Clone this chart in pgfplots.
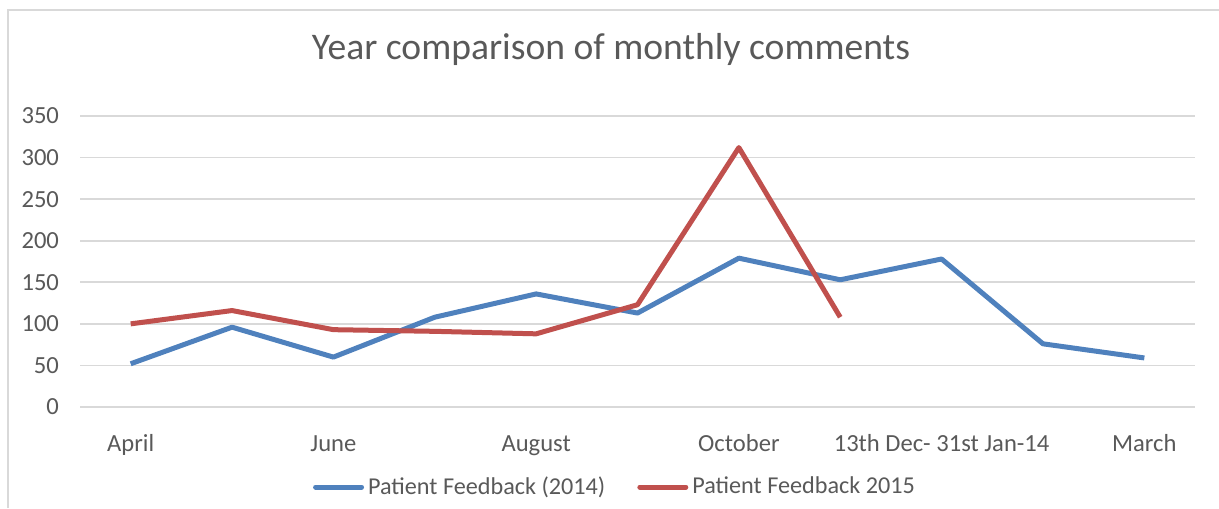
\documentclass[border=0pt]{standalone}
\usepackage{fontspec}
\setmainfont{Carlito}
\usepackage{pgfplots}
\pgfplotsset{compat=1.18}
\definecolor{sblue}{HTML}{4F81BD}
\definecolor{sred}{HTML}{C0504D}
\definecolor{gridc}{HTML}{D9D9D9}
\definecolor{txt}{HTML}{595959}
\begin{document}
\begin{tikzpicture}
\path[use as bounding box] (0,0) rectangle (609.5pt,254pt);
\draw[gridc, line width=1pt] (4pt,0) -- (4pt,249pt) -- (609.5pt,249pt);
\node[text=txt, font=\fontsize{18.8}{22}\selectfont] at (305.5pt,229.5pt) {Year comparison of monthly comments};
\begin{axis}[
  at={(40pt,50.5pt)}, anchor=south west,
  scale only axis, width=557.5pt, height=145.5pt,
  xmin=-0.5, xmax=10.5, ymin=0, ymax=350,
  ytick={0,50,...,350},
  xtick={0,2,4,6,8,10},
  xticklabels={April, June, August, October, 13th Dec- 31st Jan-14, March},
  axis line style={draw=none},
  tick style={draw=none},
  ymajorgrids,
  major grid style={gridc, line width=0.8pt},
  /pgf/number format/assume math mode=true,
  tick label style={text=txt, font=\fontsize{12.3}{14}\selectfont},
  yticklabel style={xshift=-7pt},
  xticklabel style={yshift=-11.5pt, text height=0.72em, text depth=0.22em},
  legend columns=2,
  legend style={at={(0.4807,-0.275)}, anchor=center, draw=none, fill=none,
    font=\fontsize{12.1}{14}\selectfont, text=txt,
    /tikz/every even column/.append style={column sep=14pt}},
  legend image code/.code={\draw[#1, line cap=round] (0pt,0pt) -- (23pt,0pt);},
]
\addplot[sblue, line width=2.5pt, line join=round] coordinates {
(0,52) (1,96) (2,60) (3,108) (4,136) (5,113) (6,179) (7,153) (8,178) (9,76) (10,59)};
\addlegendentry{Patient Feedback (2014)}
\addplot[sred, line width=2.5pt, line join=round] coordinates {
(0,100) (1,116) (2,93) (3,91) (4,88) (5,123) (6,312) (7,108)};
\addlegendentry{Patient Feedback 2015}
\end{axis}
\end{tikzpicture}
\end{document}
